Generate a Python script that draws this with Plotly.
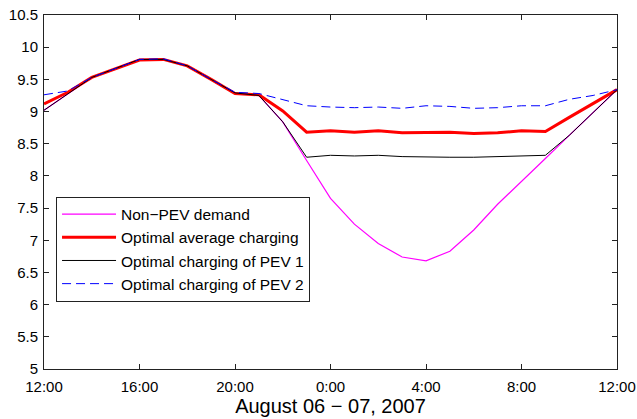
import plotly.graph_objects as go

hours = list(range(25))
tick_vals = [0, 4, 8, 12, 16, 20, 24]
tick_text = ["12:00", "16:00", "20:00", "0:00", "4:00", "8:00", "12:00"]

non_pev = [9.02, 9.28, 9.53, 9.67, 9.81, 9.81, 9.71, 9.50, 9.29, 9.25, 8.84, 8.24,
           7.65, 7.25, 6.95, 6.74, 6.68, 6.83, 7.16, 7.56, 7.91, 8.27, 8.63, 8.98, 9.34]
avg_charging = [9.12, 9.30, 9.53, 9.67, 9.80, 9.81, 9.71, 9.50, 9.28, 9.26, 9.01, 8.68,
                8.70, 8.68, 8.70, 8.67, 8.68, 8.68, 8.66, 8.67, 8.70, 8.69, 8.91, 9.12, 9.34]
pev1 = [9.02, 9.28, 9.53, 9.67, 9.81, 9.81, 9.71, 9.50, 9.29, 9.25, 8.84, 8.29,
        8.32, 8.31, 8.32, 8.30, 8.29, 8.29, 8.29, 8.30, 8.31, 8.32, 8.63, 8.98, 9.34]
pev2 = [9.26, 9.32, 9.53, 9.67, 9.81, 9.82, 9.71, 9.50, 9.30, 9.28, 9.18, 9.09,
        9.07, 9.06, 9.07, 9.05, 9.09, 9.08, 9.05, 9.06, 9.09, 9.09, 9.19, 9.25, 9.34]

fig = go.Figure()
fig.add_trace(go.Scatter(x=hours, y=non_pev, mode="lines", name="Non\u2212PEV demand",
                         line=dict(color="#ff00ff", width=1.2)))
fig.add_trace(go.Scatter(x=hours, y=avg_charging, mode="lines", name="Optimal average charging",
                         line=dict(color="#ff0000", width=3)))
fig.add_trace(go.Scatter(x=hours, y=pev1, mode="lines", name="Optimal charging of PEV 1",
                         line=dict(color="#000000", width=1)))
fig.add_trace(go.Scatter(x=hours, y=pev2, mode="lines", name="Optimal charging of PEV 2",
                         line=dict(color="#0000ff", width=1, dash="9px,5px")))

axis_common = dict(showline=True, linecolor="#222222", linewidth=1, mirror="allticks",
                   ticks="inside", ticklen=5, tickcolor="#222222", showgrid=False,
                   zeroline=False, automargin=False,
                   tickfont=dict(size=15, color="#000000"))

fig.update_layout(
    width=637, height=419,
    margin=dict(l=44, r=20, t=15, b=50),
    paper_bgcolor="white", plot_bgcolor="white",
    font=dict(family="Liberation Sans, Arial, sans-serif", color="#000000"),
    xaxis=dict(range=[0, 24], tickvals=tick_vals, ticktext=tick_text,
               ticklabelstandoff=4,
               title=dict(text="August 06 \u2212 07, 2007", font=dict(size=20), standoff=0),
               **axis_common),
    yaxis=dict(range=[5, 10.5], dtick=0.5, tick0=5, ticklabelstandoff=2, **axis_common),
    legend=dict(x=0.021, y=0.487, xanchor="left", yanchor="top",
                bgcolor="white", bordercolor="#222222", borderwidth=1,
                font=dict(size=15.5), itemwidth=54, tracegroupgap=0),
    showlegend=True,
)

fig.write_html("out.html")
